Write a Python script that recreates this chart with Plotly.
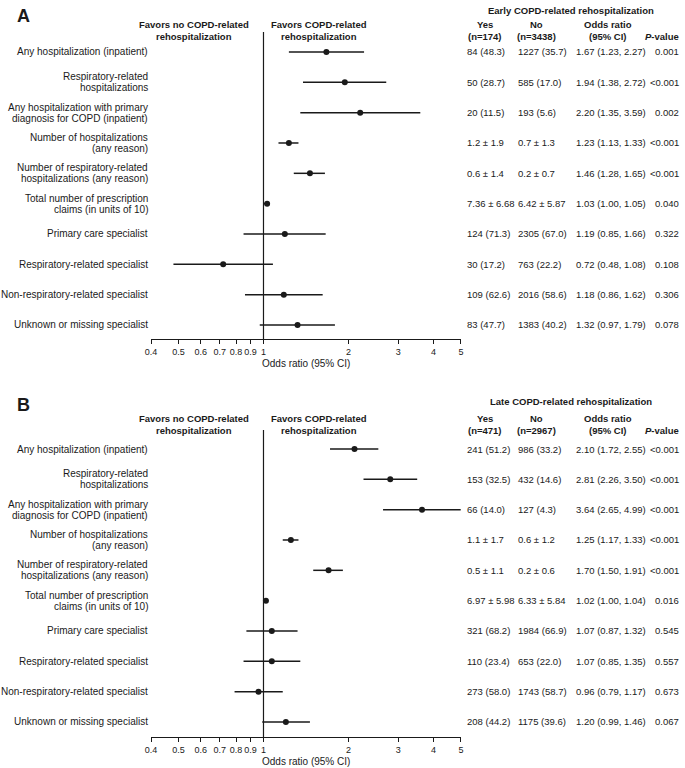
import numpy as np
import plotly.graph_objects as go

# ---- data ----
labels = [
    "Any hospitalization (inpatient)",
    "Respiratory-related<br>hospitalizations",
    "Any hospitalization with primary<br>diagnosis for COPD (inpatient)",
    "Number of hospitalizations<br>(any reason)",
    "Number of respiratory-related<br>hospitalizations (any reason)",
    "Total number of prescription<br>claims (in units of 10)",
    "Primary care specialist",
    "Respiratory-related specialist",
    "Non-respiratory-related specialist",
    "Unknown or missing specialist",
]

# panel A: early rehospitalization
a_title = "Early COPD-related rehospitalization"
a_n = (174, 3438)
a_or = [1.67, 1.94, 2.20, 1.23, 1.46, 1.03, 1.19, 0.72, 1.18, 1.32]
a_lo = [1.23, 1.38, 1.35, 1.13, 1.28, 1.00, 0.85, 0.48, 0.86, 0.97]
a_hi = [2.27, 2.72, 3.59, 1.33, 1.65, 1.05, 1.66, 1.08, 1.62, 1.79]
a_yes = ["84 (48.3)", "50 (28.7)", "20 (11.5)", "1.2 ± 1.9", "0.6 ± 1.4",
         "7.36 ± 6.68", "124 (71.3)", "30 (17.2)", "109 (62.6)", "83 (47.7)"]
a_no = ["1227 (35.7)", "585 (17.0)", "193 (5.6)", "0.7 ± 1.3", "0.2 ± 0.7",
        "6.42 ± 5.87", "2305 (67.0)", "763 (22.2)", "2016 (58.6)", "1383 (40.2)"]
a_p = ["0.001", "<0.001", "0.002", "<0.001", "<0.001",
       "0.040", "0.322", "0.108", "0.306", "0.078"]

# panel B: late rehospitalization
b_title = "Late COPD-related rehospitalization"
b_n = (471, 2967)
b_or = [2.10, 2.81, 3.64, 1.25, 1.70, 1.02, 1.07, 1.07, 0.96, 1.20]
b_lo = [1.72, 2.26, 2.65, 1.17, 1.50, 1.00, 0.87, 0.85, 0.79, 0.99]
b_hi = [2.55, 3.50, 4.99, 1.33, 1.91, 1.04, 1.32, 1.35, 1.17, 1.46]
b_yes = ["241 (51.2)", "153 (32.5)", "66 (14.0)", "1.1 ± 1.7", "0.5 ± 1.1",
         "6.97 ± 5.98", "321 (68.2)", "110 (23.4)", "273 (58.0)", "208 (44.2)"]
b_no = ["986 (33.2)", "432 (14.6)", "127 (4.3)", "0.6 ± 1.2", "0.2 ± 0.6",
        "6.33 ± 5.84", "1984 (66.9)", "653 (22.0)", "1743 (58.7)", "1175 (39.6)"]
b_p = ["<0.001", "<0.001", "<0.001", "<0.001", "<0.001",
       "0.016", "0.545", "0.557", "0.673", "0.067"]

x_ticks = [0.4, 0.5, 0.6, 0.7, 0.8, 0.9, 1, 2, 3, 4, 5]

# ---- layout constants (pixels) ----
W, H = 685, 768
FONT = "Liberation Sans, Arial, sans-serif"
INK = "#1a1a1a"
PITCH = 30.33
X0, X1 = 147, 461          # plot area left/right

def px(x):
    return x / W

def py(y):
    return 1 - y / H

fig = go.Figure()

panels = [
    dict(letter="A", title=a_title, n=a_n, orv=a_or, lo=a_lo, hi=a_hi, yes=a_yes, no=a_no, p=a_p,
         top=32, bottom=339, row0=52, letter_y=16, title_y=11, head_y=(24, 36), xlab_y=364),
    dict(letter="B", title=b_title, n=b_n, orv=b_or, lo=b_lo, hi=b_hi, yes=b_yes, no=b_no, p=b_p,
         top=430, bottom=737, row0=449, letter_y=405, title_y=401, head_y=(418, 430), xlab_y=761),
]

def note(x, y, s, anchor="center", size=10, bold=False, xref="paper", yref="paper", yshift=0):
    if bold:
        s = "<b>" + s + "</b>"
    fig.add_annotation(x=x, y=y, xref=xref, yref=yref, text=s, showarrow=False,
                       xanchor=anchor, yanchor="middle", yshift=yshift, align=anchor,
                       font=dict(family=FONT, size=size, color=INK))

BS = 9.5   # bold header size
DS = 9.5   # table text size

for k, pn in enumerate(panels):
    sfx = "" if k == 0 else str(k + 1)
    yref = "y" + sfx
    rows = list(range(len(labels)))
    orv = np.array(pn["orv"])
    lo = np.array(pn["lo"])
    hi = np.array(pn["hi"])

    last = pn["row0"] + (len(labels) - 1) * PITCH
    y_bot = (len(labels) - 1) + (pn["bottom"] - last) / PITCH
    y_top = -(pn["row0"] - pn["top"]) / PITCH

    # reference line at OR = 1
    fig.add_trace(go.Scatter(x=[1, 1], y=[y_top, y_bot], mode="lines",
                             line=dict(color=INK, width=1.2), hoverinfo="skip",
                             showlegend=False, xaxis="x" + sfx, yaxis=yref))
    # estimates with 95% CI
    fig.add_trace(go.Scatter(
        x=orv, y=rows, mode="markers",
        marker=dict(size=6, color=INK),
        error_x=dict(type="data", symmetric=False, array=hi - orv, arrayminus=orv - lo,
                     thickness=1.5, width=0, color=INK),
        hoverinfo="skip", showlegend=False, xaxis="x" + sfx, yaxis=yref))

    fig.update_layout(**{
        "xaxis" + sfx: dict(type="log", range=[np.log10(0.4), np.log10(5)],
                            domain=[px(X0), px(X1)], anchor=yref,
                            tickvals=x_ticks, ticktext=[f"{t:g}" for t in x_ticks],
                            tickangle=0,
                            ticks="outside", ticklen=4, tickwidth=1, tickcolor=INK,
                            showline=True, linecolor=INK, linewidth=1.2,
                            showgrid=False, zeroline=False,
                            tickfont=dict(family=FONT, size=9, color=INK)),
        "yaxis" + sfx: dict(range=[y_bot, y_top], domain=[py(pn["bottom"]), py(pn["top"])],
                            anchor="x" + sfx, visible=False),
    })

    # row labels and table columns
    for i, lab in enumerate(labels):
        parts = lab.split("<br>")
        if len(parts) == 1:
            note(px(146), i, parts[0], anchor="right", yref=yref)
        else:
            note(px(146), i, parts[0], anchor="right", yref=yref, yshift=5.5)
            note(px(146), i, parts[1], anchor="right", yref=yref, yshift=-5.5)
        note(px(465), i, pn["yes"][i], anchor="left", yref=yref, size=DS)
        note(px(517), i, pn["no"][i], anchor="left", yref=yref, size=DS)
        note(px(576), i, f"{orv[i]:.2f} ({lo[i]:.2f}, {hi[i]:.2f})", anchor="left", yref=yref, size=DS)
        note(px(684), i, pn["p"][i], anchor="right", yref=yref, size=DS)

    # headers
    h1, h2 = pn["head_y"]
    note(px(18), py(pn["letter_y"]), pn["letter"], size=18, bold=True)
    note(px(573), py(pn["title_y"]), pn["title"], bold=True, size=BS)
    note(px(190), py(h1), "Favors no COPD-related", bold=True, size=BS)
    note(px(190), py(h2), "rehospitalization", bold=True, size=BS)
    note(px(317), py(h1), "Favors COPD-related", bold=True, size=BS)
    note(px(317), py(h2), "rehospitalization", bold=True, size=BS)
    note(px(485), py(h1), "Yes", bold=True, size=BS)
    note(px(485), py(h2), f"(n={pn['n'][0]})", bold=True, size=BS)
    note(px(538), py(h1), "No", bold=True, size=BS)
    note(px(538), py(h2), f"(n={pn['n'][1]})", bold=True, size=BS)
    note(px(610), py(h1), "Odds ratio", bold=True, size=BS)
    note(px(610), py(h2), "(95% CI)", bold=True, size=BS)
    note(px(684), py(h2), "<i>P</i>-value", anchor="right", bold=True, size=BS)
    note(px((X0 + X1) / 2), py(pn["xlab_y"]), "Odds ratio (95% CI)")

fig.update_layout(width=W, height=H, margin=dict(l=0, r=0, t=0, b=0),
                  paper_bgcolor="white", plot_bgcolor="white",
                  font=dict(family=FONT, size=10, color=INK))

fig.write_html("out.html", config={"displayModeBar": False},
               post_script="document.body.style.margin='0';")
